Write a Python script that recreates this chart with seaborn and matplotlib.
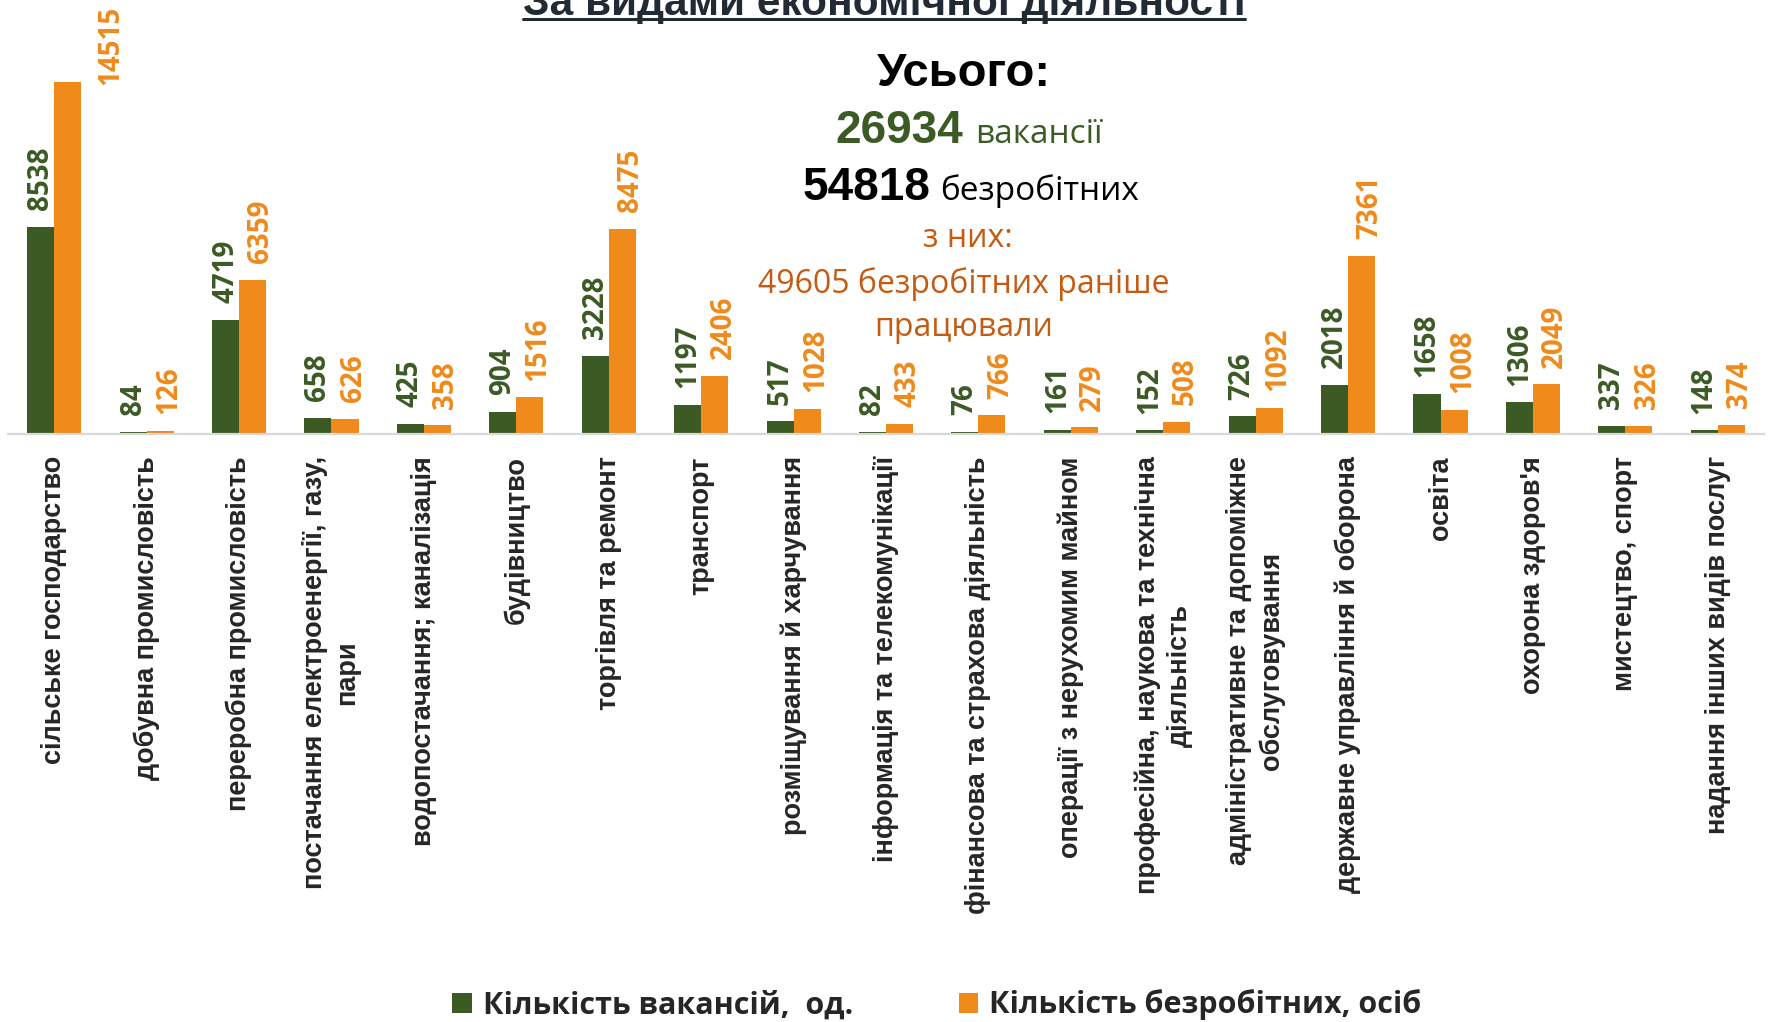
import pandas as pd
import seaborn as sns
import matplotlib
matplotlib.use("Agg")
import matplotlib.pyplot as plt
from matplotlib.lines import Line2D

# data
categories = [
    "сільське господарство",
    "добувна промисловість",
    "переробна промисловість",
    "постачання електроенергії, газу,\nпари",
    "водопостачання; каналізація",
    "будівництво",
    "торгівля та ремонт",
    "транспорт",
    "розміщування й харчування",
    "інформація та телекомунікації",
    "фінансова та страхова діяльність",
    "операції з нерухомим майном",
    "професійна, наукова та технічна\nдіяльність",
    "адміністративне та допоміжне\nобслуговування",
    "державне управління й оборона",
    "освіта",
    "охорона здоров'я",
    "мистецтво, спорт",
    "надання інших видів послуг",
]
vacancies = [8538, 84, 4719, 658, 425, 904, 3228, 1197, 517, 82, 76, 161, 152, 726, 2018, 1658, 1306, 337, 148]
unemployed = [14515, 126, 6359, 626, 358, 1516, 8475, 2406, 1028, 433, 766, 279, 508, 1092, 7361, 1008, 2049, 326, 374]
series_names = ["Кількість вакансій,  од.", "Кількість безробітних, осіб"]

title = "За видами економічної діяльності"
total_vacancies = 26934
total_unemployed = 54818
previously_employed = 49605

GREEN = "#3B5A24"
ORANGE = "#EF8A1B"
DARK_ORANGE = "#C55A11"
NAVY = "#222A35"

ARIAL = ["Liberation Sans", "DejaVu Sans"]
CALIBRI = ["Open Sans", "DejaVu Sans"]

W, H = 1770, 1022


def px(x, y):
    return x / W, 1 - y / H


df = pd.DataFrame({
    "category": categories * 2,
    "value": vacancies + unemployed,
    "series": [series_names[0]] * len(categories) + [series_names[1]] * len(categories),
})

sns.set_style("white")
plt.rcParams["font.family"] = ARIAL

fig = plt.figure(figsize=(W / 100, H / 100), dpi=100)
ax = fig.add_axes([8 / W, 1 - 434 / H, 1756 / W, 434 / H])

sns.barplot(data=df, x="category", y="value", hue="series",
            palette=[GREEN, ORANGE], width=0.585, saturation=1,
            errorbar=None, linewidth=0, ax=ax)

ax.set_ylim(0, 17900)
ax.set_xlim(-0.5, len(categories) - 0.5)
ax.set_xlabel("")
ax.set_ylabel("")
ax.set_yticks([])
for side in ["top", "right", "left"]:
    ax.spines[side].set_visible(False)
ax.spines["bottom"].set_color("#D9D9D9")
ax.spines["bottom"].set_linewidth(1.6)

ax.set_xticks(range(len(categories)))
ax.set_xticklabels(categories, rotation=90, ha="center", va="top",
                   multialignment="center", fontsize=19.5, fontweight="bold",
                   family=ARIAL, linespacing=1.3)
ax.tick_params(axis="x", length=0, pad=16)

# value labels above the bars
ymax = ax.get_ylim()[1]
for container, color, dx in zip(ax.containers, [GREEN, ORANGE], [0, 6]):
    for bar in container:
        h = bar.get_height()
        x = bar.get_x() + bar.get_width() / 2
        if h > 0.75 * ymax:
            off = (dx + 25, -2)
        else:
            off = (dx, 12)
        ax.annotate(f"{int(h)}", (x, h), xytext=off, textcoords="offset points",
                    rotation=90, ha="center", va="bottom", color=color,
                    fontsize=20, fontweight="bold", family=CALIBRI,
                    annotation_clip=False)

# legend at the bottom
sns.move_legend(ax, "center", bbox_to_anchor=px(937, 1005), bbox_transform=fig.transFigure,
                ncol=2, frameon=False, title=None, handlelength=0.63, handleheight=0.63,
                handletextpad=0.37, columnspacing=3.45, borderpad=0,
                prop={"family": CALIBRI, "weight": "bold", "size": 22})

# title, cut at the top, underlined
t = fig.text(*px(884, 15), title, ha="center", va="baseline", fontsize=30.5,
             fontweight="bold", color=NAVY, family=ARIAL)
fig.canvas.draw()
bb = t.get_window_extent()
fig.add_artist(Line2D([bb.x0 / W, bb.x1 / W], [1 - 19 / H] * 2,
                      color=NAVY, linewidth=2.2, transform=fig.transFigure))

# summary block
fig.text(*px(964, 74), "Усього:", ha="center", va="center", fontsize=34,
         fontweight="bold", color="black", family=ARIAL)
fig.text(*px(963, 143), f"{total_vacancies}", ha="right", va="baseline", fontsize=33,
         fontweight="bold", color=GREEN, family=ARIAL)
fig.text(*px(975, 143), "вакансії", ha="left", va="baseline", fontsize=24,
         color=GREEN, family=CALIBRI)
fig.text(*px(930, 200), f"{total_unemployed}", ha="right", va="baseline", fontsize=33,
         fontweight="bold", color="black", family=ARIAL)
fig.text(*px(940, 200), "безробітних", ha="left", va="baseline", fontsize=24,
         color="black", family=CALIBRI)
fig.text(*px(968, 247), "з них:", ha="center", va="baseline", fontsize=23,
         color=DARK_ORANGE, family=CALIBRI)
fig.text(*px(964, 293), f"{previously_employed} безробітних раніше", ha="center",
         va="baseline", fontsize=23, color=DARK_ORANGE, family=CALIBRI)
fig.text(*px(964, 336), "працювали", ha="center", va="baseline", fontsize=23,
         color=DARK_ORANGE, family=CALIBRI)

fig.savefig("out.png", dpi=100)
